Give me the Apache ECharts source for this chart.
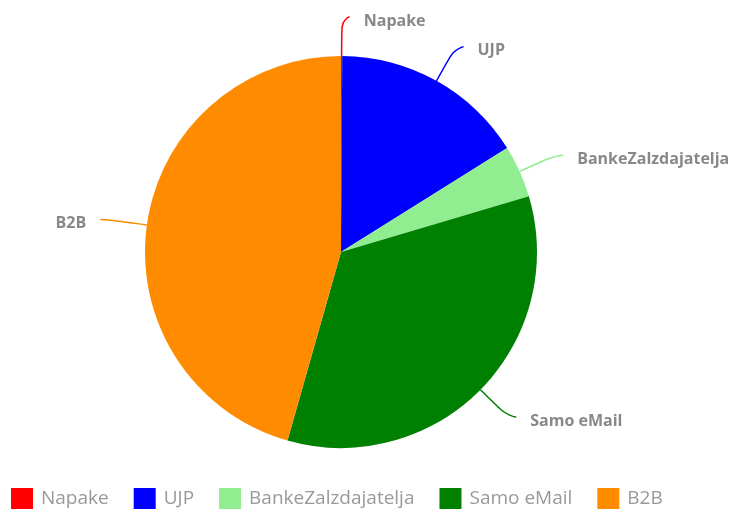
<!DOCTYPE html>
<html><head><meta charset="utf-8">
<script src="https://cdn.jsdelivr.net/npm/echarts@6/dist/echarts.min.js"></script>
<style>html,body{margin:0;padding:0;background:#fff}#c{width:739px;height:510px}</style>
</head><body><div id="c"></div>
<script>
const categories = ['Napake', 'UJP', 'BankeZalzdajatelja', 'Samo eMail', 'B2B'];
const values = [1, 160, 43, 340, 456];
const colors = ['#ff0000', '#0000ff', '#90ee90', '#008000', '#ff8c00'];

const chart = echarts.init(document.getElementById('c'));
chart.setOption({
  animation: false,
  color: colors,
  legend: {
    left: 6, top: 483,
    itemWidth: 22, itemHeight: 21, itemGap: 25,
    icon: 'rect',
    textStyle: { fontFamily: 'Open Sans', fontSize: 19, color: '#999', padding: [0, 0, 0, 3] },
    data: categories.map(n => n === 'UJP'
      ? { name: n, textStyle: { padding: [0, 14, 0, 3] } }
      : { name: n })
  },
  series: [{
    type: 'pie',
    center: [341, 252],
    radius: [0, 196],
    startAngle: 90,
    clockwise: true,
    label: {
      fontFamily: 'Open Sans', fontSize: 16, fontWeight: 'bold', color: '#888',
      distanceToLabelLine: 14, overflow: 'none', offset: [0, 4]
    },
    labelLine: { length: 39, length2: 8, smooth: 0.8, lineStyle: { width: 1.5 } },
    data: categories.map((n, i) => ({ name: n, value: values[i] }))
  }]
});
</script></body></html>
